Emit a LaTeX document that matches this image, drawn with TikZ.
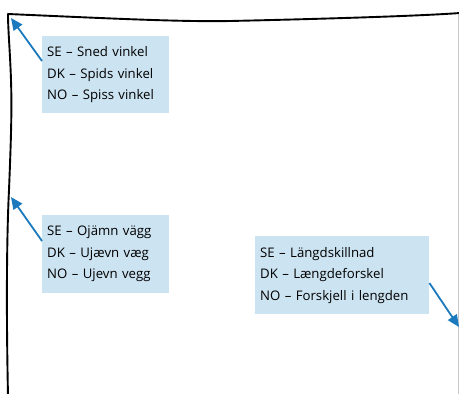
\documentclass[tikz,border=0pt]{standalone}
\usepackage{fontspec}
\setmainfont{Open Sans}
\usetikzlibrary{arrows.meta,calc}
\definecolor{boxblue}{HTML}{CCE3F1}
\definecolor{arrblue}{HTML}{1B79BD}
\definecolor{edgegray}{HTML}{C8C8C8}
\tikzset{
  label box/.style={fill=boxblue, anchor=north west, align=left, inner sep=0pt,
    font=\fontsize{13.2}{21.5}\selectfont},
  callout/.style={draw=arrblue, line width=1.8pt, -{Triangle[length=12pt,width=10.5pt]}},
  wall/.style={draw=black, line width=1.9pt, line join=round},
}
\begin{document}
\begin{tikzpicture}[x=1pt,y=-1pt]
\useasboundingbox (0,0) rectangle (459,394);
% frame
\coordinate (tl) at (8,14);
\coordinate (tr) at (460,13);
\coordinate (bl) at (8,396);
\draw[wall] (bl) .. controls (6,300) and (7,230) .. (9,190)
  .. controls (11,140) and (12,110) .. (11,80)
  .. controls (10,50) and (8,30) .. (tl)
  .. controls (100,18) and (180,22) .. (230,21)
  .. controls (320,19) and (420,16) .. (tr);
\draw[edgegray, line width=1pt] (458.5,14) -- (458.5,396);
% boxes
\node[label box, minimum width=127pt, minimum height=77pt, text width=117pt] (b1) at (42,36)
  {SE – Sned vinkel\\DK – Spids vinkel\\NO – Spiss vinkel};
\node[label box, minimum width=127pt, minimum height=78pt, text width=117pt] (b2) at (42,215)
  {SE – Ojämn vägg\\DK – Ujævn væg\\NO – Ujevn vegg};
\node[label box, minimum width=174pt, minimum height=78pt, text width=164pt] (b3) at (255,236)
  {SE – Längdskillnad\\DK – Længdeforskel\\NO – Forskjell i lengden};
% arrow targets
\coordinate (t1) at (11,18);
\coordinate (t2) at (11,197);
\coordinate (t3) at (459,327);
\draw[callout] ([yshift=-25pt]b1.north west) -- (t1);
\draw[callout] ([yshift=-26pt]b2.north west) -- (t2);
\draw[callout] ([yshift=-47pt]b3.north east) -- (t3);
\end{tikzpicture}
\end{document}
